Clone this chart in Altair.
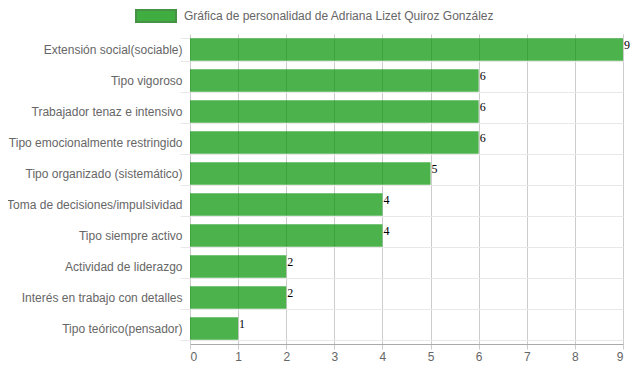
import altair as alt
import pandas as pd

categories = [
    "Extensión social(sociable)",
    "Tipo vigoroso",
    "Trabajador tenaz e intensivo",
    "Tipo emocionalmente restringido",
    "Tipo organizado (sistemático)",
    "Toma de decisiones/impulsividad",
    "Tipo siempre activo",
    "Actividad de liderazgo",
    "Interés en trabajo con detalles",
    "Tipo teórico(pensador)",
]
values = [9, 6, 6, 6, 5, 4, 4, 2, 2, 1]
series_name = "Gráfica de personalidad de Adriana Lizet Quiroz González"
x_ticks = [0, 1, 2, 3, 4, 5, 6, 7, 8, 9]

df = pd.DataFrame({"cat": categories, "val": values, "serie": [series_name] * len(values)})

FONT = "Liberation Sans"
GREEN = "#009200"

y_enc = alt.Y(
    "cat:N",
    sort=categories,
    title=None,
    scale=alt.Scale(paddingInner=0.28, paddingOuter=0.14),
    axis=alt.Axis(
        bandPosition=0,
        grid=True,
        gridColor="#e8e8e8",
        gridWidth=1,
        domain=False,
        ticks=True,
        tickSize=10,
        tickColor="#e8e8e8",
        tickBand="extent",
        labelPadding=-2,
        labelFont=FONT,
        labelFontSize=12,
        labelColor="#666666",
        labelLimit=0,
    ),
)

x_enc = alt.X(
    "val:Q",
    title=None,
    scale=alt.Scale(domain=[0, 9], nice=False),
    axis=alt.Axis(
        values=x_ticks,
        grid=True,
        gridColor="#cccccc",
        gridWidth=1,
        domain=True,
        domainColor="#aaaaaa",
        ticks=True,
        tickSize=5,
        tickColor="#cccccc",
        labelPadding=2,
        labelFont=FONT,
        labelFontSize=12,
        labelColor="#666666",
        format="d",
    ),
)

bars = alt.Chart(df).mark_bar(opacity=0.7).encode(
    x=x_enc,
    y=y_enc,
    color=alt.Color(
        "serie:N",
        scale=alt.Scale(range=[GREEN]),
        legend=alt.Legend(
            title=None,
            orient="none",
            legendX=-55,
            legendY=-39,
            symbolType="M-1,-0.3H1V0.3H-1Z",
            symbolSize=1600,
            symbolStrokeColor="#0b6e0b",
            symbolStrokeWidth=2,
            symbolOpacity=0.75,
            labelFont=FONT,
            labelFontSize=12,
            labelColor="#666666",
            labelLimit=0,
            labelOffset=7,
            padding=0,
        ),
    ),
)

labels = alt.Chart(df).mark_text(
    align="left", baseline="middle", dx=1, dy=-5,
    font="Liberation Serif", fontSize=12, color="#000000",
).encode(
    x=alt.X("val:Q"),
    y=alt.Y("cat:N", sort=categories),
    text=alt.Text("val:Q"),
)

chart = alt.layer(bars, labels).properties(
    width=433,
    height=310,
    autosize=alt.AutoSizeParams(type="none"),
    padding={"left": 182, "top": 26, "right": 8, "bottom": 20},
).configure_view(stroke=None)

chart.save("out.html", embed_options={"renderer": "svg", "actions": False})
